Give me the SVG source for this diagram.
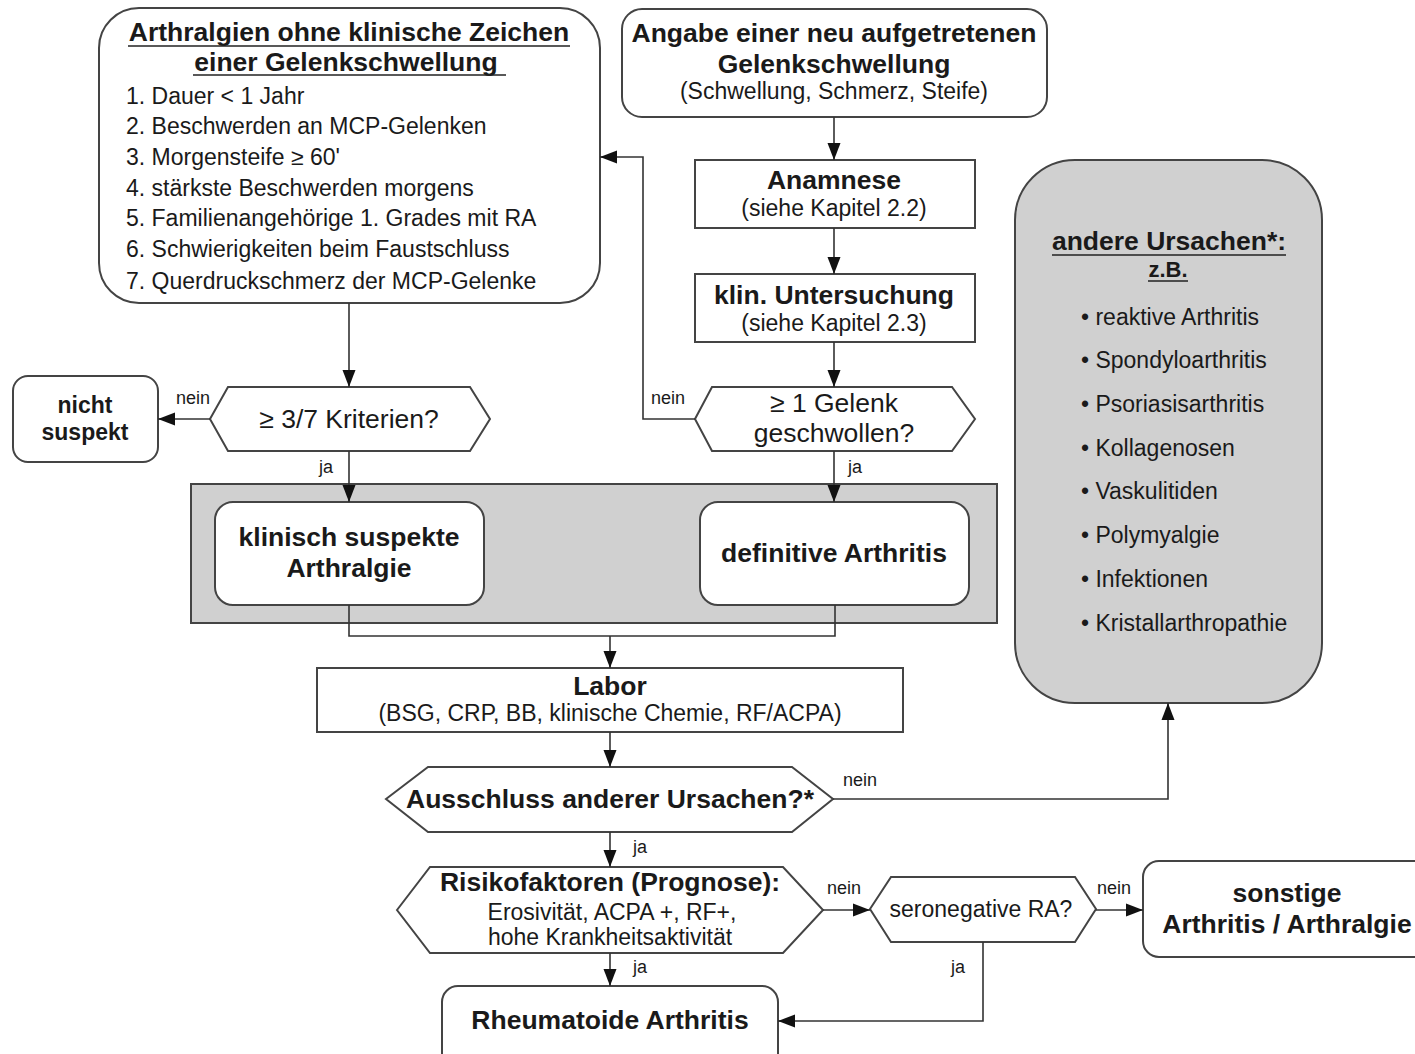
<svg xmlns="http://www.w3.org/2000/svg" width="1415" height="1054" viewBox="0 0 1415 1054">
<defs>
<marker id="ah" markerUnits="userSpaceOnUse" markerWidth="18" markerHeight="14" refX="17" refY="7" orient="auto">
<path d="M0,0.5 L17,7 L0,13.5 z" fill="#111"/>
</marker>
<style>
.box{fill:#fff;stroke:#444;stroke-width:2}
.gray{fill:#d0d0d0;stroke:#444;stroke-width:2}
.con{fill:none;stroke:#333;stroke-width:1.6}
.arr{fill:none;stroke:#333;stroke-width:1.6;marker-end:url(#ah)}
text{font-family:"Liberation Sans",Arial,sans-serif;fill:#1a1a1a}
.b{font-weight:bold}
.c{text-anchor:middle}
.tb{font-size:26.5px}
.tr{font-size:23px}
.lbl{font-size:18px}
.ul{stroke:#222;stroke-width:1.6}
</style>
</defs>
<rect width="1415" height="1054" fill="#fff"/>

<g id="group-bg">
<rect class="gray" x="191" y="484" width="806" height="139"/>
</g>

<g id="node-arthralgien">
<rect class="box" x="99" y="8" width="501" height="295" rx="40"/>
<text class="b tb c" x="349" y="41">Arthralgien ohne klinische Zeichen</text>
<text class="b tb c" x="346" y="71">einer Gelenkschwellung</text>
<line class="ul" x1="128" y1="46" x2="570" y2="46"/>
<line class="ul" x1="193" y1="75" x2="506" y2="75"/>
<text class="tr" x="126" y="104">1. Dauer &lt; 1 Jahr</text>
<text class="tr" x="126" y="134">2. Beschwerden an MCP-Gelenken</text>
<text class="tr" x="126" y="165">3. Morgensteife ≥ 60'</text>
<text class="tr" x="126" y="196">4. stärkste Beschwerden morgens</text>
<text class="tr" x="126" y="226">5. Familienangehörige 1. Grades mit RA</text>
<text class="tr" x="126" y="257">6. Schwierigkeiten beim Faustschluss</text>
<text class="tr" x="126" y="289">7. Querdruckschmerz der MCP-Gelenke</text>
</g>

<g id="node-angabe">
<rect class="box" x="622" y="9" width="425" height="108" rx="20"/>
<text class="b tb c" x="834" y="42">Angabe einer neu aufgetretenen</text>
<text class="b tb c" x="834" y="73">Gelenkschwellung</text>
<text class="tr c" x="834" y="99">(Schwellung, Schmerz, Steife)</text>
</g>

<g id="node-anamnese">
<rect class="box" x="695" y="160" width="280" height="68"/>
<text class="b tb c" x="834" y="189">Anamnese</text>
<text class="tr c" x="834" y="216">(siehe Kapitel 2.2)</text>
</g>

<g id="node-untersuchung">
<rect class="box" x="695" y="274" width="280" height="68"/>
<text class="b tb c" x="834" y="304">klin. Untersuchung</text>
<text class="tr c" x="834" y="331">(siehe Kapitel 2.3)</text>
</g>

<g id="node-andere">
<rect class="gray" x="1015" y="160" width="307" height="543" rx="60"/>
<text class="b tb c" x="1169" y="250">andere Ursachen*:</text>
<line class="ul" x1="1052" y1="255" x2="1286" y2="255"/>
<text class="b c" style="font-size:22px" x="1168" y="277">z.B.</text>
<line class="ul" x1="1148" y1="281" x2="1188" y2="281"/>
<text class="tr" x="1081" y="325">• reaktive Arthritis</text>
<text class="tr" x="1081" y="368">• Spondyloarthritis</text>
<text class="tr" x="1081" y="412">• Psoriasisarthritis</text>
<text class="tr" x="1081" y="456">• Kollagenosen</text>
<text class="tr" x="1081" y="499">• Vaskulitiden</text>
<text class="tr" x="1081" y="543">• Polymyalgie</text>
<text class="tr" x="1081" y="587">• Infektionen</text>
<text class="tr" x="1081" y="631">• Kristallarthropathie</text>
</g>

<g id="node-kriterien">
<polygon class="box" points="210,419 228,387 470,387 490,419 470,451 228,451"/>
<text class="tb c" x="349" y="428">≥ 3/7 Kriterien?</text>
</g>

<g id="node-nicht">
<rect class="box" x="13" y="376" width="145" height="86" rx="15"/>
<text class="b tr c" x="85" y="413">nicht</text>
<text class="b tr c" x="85" y="440">suspekt</text>
</g>

<g id="node-gelenk">
<polygon class="box" points="695,419 712,387 952,387 975,419 952,451 712,451"/>
<text class="tb c" x="834" y="412">≥ 1 Gelenk</text>
<text class="tb c" x="834" y="442">geschwollen?</text>
</g>

<g id="node-klinisch">
<rect class="box" x="215" y="502" width="269" height="103" rx="18"/>
<text class="b tb c" x="349" y="546">klinisch suspekte</text>
<text class="b tb c" x="349" y="577">Arthralgie</text>
</g>

<g id="node-definitiv">
<rect class="box" x="700" y="502" width="269" height="103" rx="18"/>
<text class="b tb c" x="834" y="562">definitive Arthritis</text>
</g>

<g id="node-labor">
<rect class="box" x="317" y="668" width="586" height="64"/>
<text class="b tb c" x="610" y="695">Labor</text>
<text class="tr c" x="610" y="721">(BSG, CRP, BB, klinische Chemie, RF/ACPA)</text>
</g>

<g id="node-ausschluss">
<polygon class="box" points="386,799 428,767 792,767 833,799 792,832 428,832"/>
<text class="b tb c" x="610" y="808">Ausschluss anderer Ursachen?*</text>
</g>

<g id="node-risiko">
<polygon class="box" points="397,910 430,867 783,867 823,910 783,953 430,953"/>
<text class="b tb c" x="610" y="891">Risikofaktoren (Prognose):</text>
<text class="tr c" x="612" y="920">Erosivität, ACPA +, RF+,</text>
<text class="tr c" x="610" y="945">hohe Krankheitsaktivität</text>
</g>

<g id="node-seroneg">
<polygon class="box" points="870,909 891,877 1075,877 1096,909 1075,942 891,942"/>
<text class="tr c" x="981" y="917">seronegative RA?</text>
</g>

<g id="node-sonstige">
<rect class="box" x="1143" y="861" width="290" height="96" rx="16"/>
<text class="b tb c" x="1287" y="902">sonstige</text>
<text class="b tb c" x="1287" y="933">Arthritis / Arthralgie</text>
</g>

<g id="node-ra">
<rect class="box" x="442" y="986" width="336" height="90" rx="16"/>
<text class="b tb c" x="610" y="1029">Rheumatoide Arthritis</text>
</g>

<g id="connectors">
<path class="arr" d="M349,303 V387"/>
<path class="arr" d="M210,419 H158"/>
<path class="arr" d="M349,451 V502"/>
<path class="arr" d="M834,117 V160"/>
<path class="arr" d="M834,228 V274"/>
<path class="arr" d="M834,342 V387"/>
<path class="arr" d="M695,419 H643 V157 H600"/>
<path class="arr" d="M834,451 V502"/>
<path class="con" d="M349,605 V636 H835 V605"/>
<path class="arr" d="M610,636 V668"/>
<path class="arr" d="M610,732 V767"/>
<path class="arr" d="M833,799 H1168 V703"/>
<path class="arr" d="M610,832 V867"/>
<path class="arr" d="M823,910 H870"/>
<path class="arr" d="M1096,910 H1143"/>
<path class="arr" d="M610,953 V986"/>
<path class="arr" d="M983,942 V1021 H778"/>
<text class="lbl" x="176" y="404">nein</text>
<text class="lbl" x="319" y="473">ja</text>
<text class="lbl" x="651" y="404">nein</text>
<text class="lbl" x="848" y="473">ja</text>
<text class="lbl" x="843" y="786">nein</text>
<text class="lbl" x="633" y="853">ja</text>
<text class="lbl" x="827" y="894">nein</text>
<text class="lbl" x="1097" y="894">nein</text>
<text class="lbl" x="951" y="973">ja</text>
<text class="lbl" x="633" y="973">ja</text>
</g>
</svg>
